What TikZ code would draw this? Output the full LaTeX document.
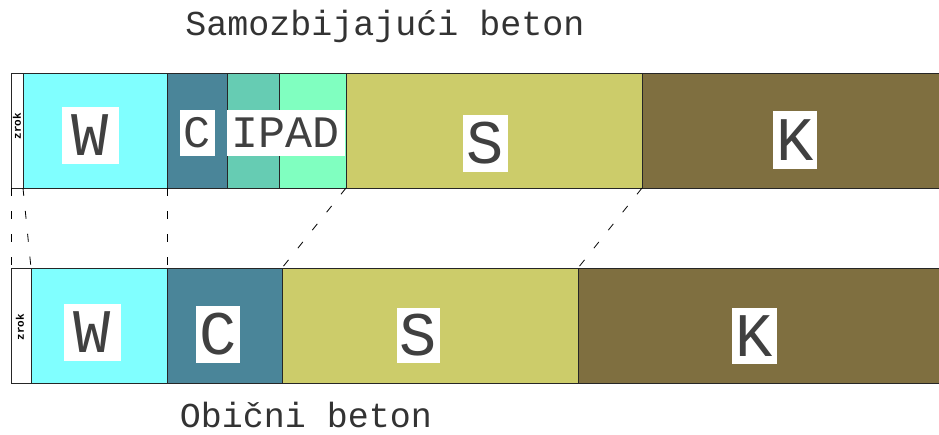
\documentclass[tikz,border=0pt]{standalone}
\usepackage{fontspec}
\setmonofont{Liberation Mono}

\definecolor{voda}{RGB}{128,255,255}
\definecolor{cement}{RGB}{74,133,153}
\definecolor{filer}{RGB}{102,204,179}
\definecolor{aditiv}{RGB}{128,255,192}
\definecolor{pijesak}{RGB}{204,204,106}
\definecolor{sljunak}{RGB}{127,111,64}

\begin{document}
\begin{tikzpicture}[x=1pt, y=-1pt, line width=0.9pt,
  seg/.style={draw=black!85, outer sep=0pt, inner sep=0pt, minimum height=115pt, anchor=north west},
  lbl/.style={fill=white, text=black!75, inner sep=0pt, minimum width=44pt, minimum height=57pt, font=\fontsize{62}{62}\selectfont\ttfamily},
  small lbl/.style={lbl, minimum width=35pt, minimum height=46pt, font=\fontsize{45}{45}\selectfont\ttfamily},
  zrok/.style={rotate=90, font=\fontsize{11}{11}\selectfont\ttfamily\bfseries},
  title/.style={anchor=base, text=black!80, font=\fontsize{35}{35}\selectfont\ttfamily},
  link/.style={dash pattern=on 8pt off 15pt, line width=0.8pt}]
  \useasboundingbox (0,0) rectangle (939,434);

  % Samozbijajuci beton
  \node[title] (naslov) at (385,35) {Samozbijajući beton};
  \node[seg, minimum width=12pt]              (zt) at (11,73)  {};
  \node[seg, fill=voda, minimum width=144pt]  (wt) at (23,73)  {};
  \node[seg, fill=cement, minimum width=60pt] (ct) at (167,73) {};
  \node[seg, fill=filer, minimum width=52pt]  (it) at (227,73) {};
  \node[seg, fill=aditiv, minimum width=67pt] (at) at (279,73) {};
  \node[seg, fill=pijesak, minimum width=296pt] (st) at (346,73) {};
  \node[seg, fill=sljunak, minimum width=297pt] (kt) at (642,73) {};

  \node[zrok] (zt-txt) at (17,126) {zrok};
  \node[lbl, minimum width=57pt] (wt-txt) at (90,135) {W};
  \node[small lbl] (ct-txt) at (197,133) {C};
  \node[small lbl, minimum width=118pt] (ipad-txt) at (286,132.5) {IPAD};
  \node[lbl, minimum width=45pt] (st-txt) at (485,143) {S};
  \node[lbl, minimum height=58pt] (kt-txt) at (795,140) {K};

  % Obicni beton
  \node[title] (podnaslov) at (306,427) {Obični beton};
  \node[seg, minimum width=20pt]               (zb) at (11,268)  {};
  \node[seg, fill=voda, minimum width=136pt]   (wb) at (31,268)  {};
  \node[seg, fill=cement, minimum width=115pt] (cb) at (167,268) {};
  \node[seg, fill=pijesak, minimum width=296pt] (sb) at (282,268) {};
  \node[seg, fill=sljunak, minimum width=361pt] (kb) at (578,268) {};

  \node[zrok] (zb-txt) at (20,327) {zrok};
  \node[lbl, minimum width=57pt] (wb-txt) at (92,332) {W};
  \node[lbl] (cb-txt) at (218,334) {C};
  \node[lbl, minimum width=43pt, minimum height=55pt] (sb-txt) at (418,335) {S};
  \node[lbl, minimum width=45pt, minimum height=56pt] (kb-txt) at (754,336) {K};

  % prijelazi
  \draw[link] (zt.south west) -- (zb.north west);
  \draw[link] (zt.south east) -- (zb.north east);
  \draw[link] (wt.south east) -- (wb.north east);
  \draw[link] (at.south east) -- (cb.north east);
  \draw[link] (st.south east) -- (sb.north east);
\end{tikzpicture}
\end{document}
